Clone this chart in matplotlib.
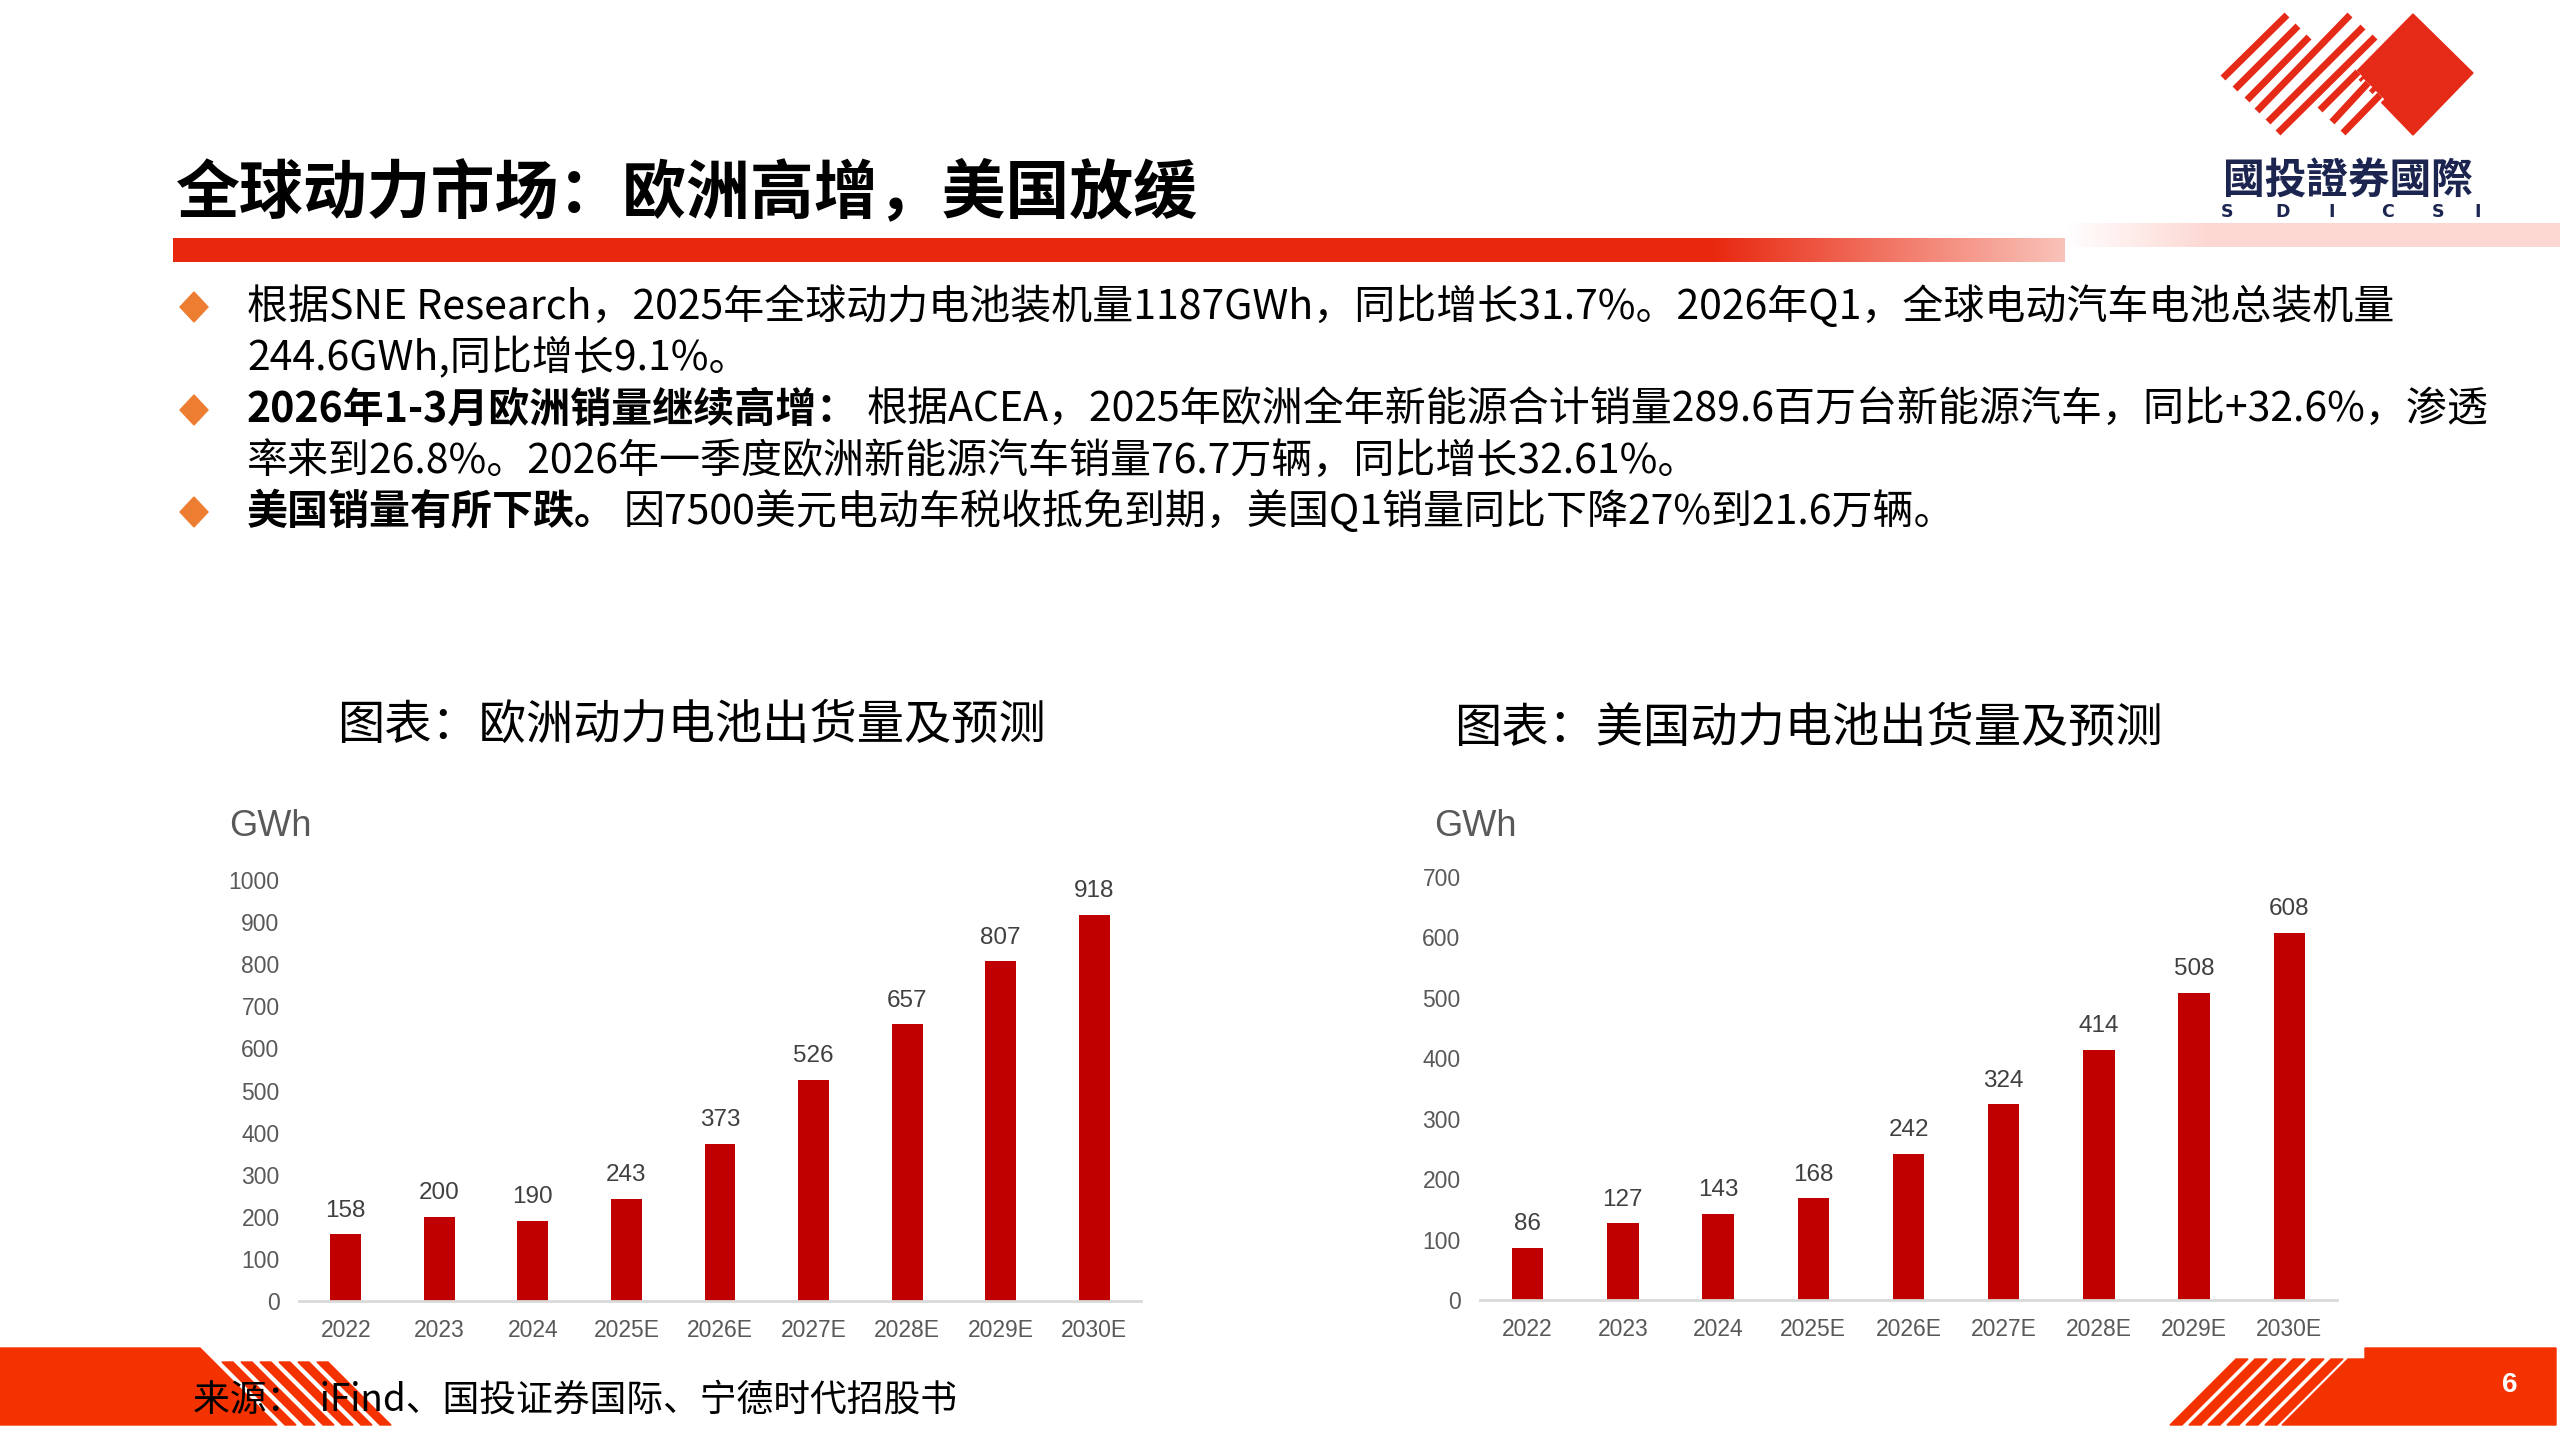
import matplotlib
matplotlib.use('Agg')
import matplotlib.pyplot as plt
import matplotlib.patheffects as pe
from matplotlib.patches import Polygon
import numpy as np

# データ
years = ['2022', '2023', '2024', '2025E', '2026E', '2027E', '2028E', '2029E', '2030E']
eu_gwh = [158, 200, 190, 243, 373, 526, 657, 807, 918]
us_gwh = [86, 127, 143, 168, 242, 324, 414, 508, 608]

title = '全球动力市场：欧洲高增，美国放缓'
eu_title = '图表：欧洲动力电池出货量及预测'
us_title = '图表：美国动力电池出货量及预测'
unit = 'GWh'
source = '来源：  iFind、国投证券国际、宁德时代招股书'
page_no = '6'

# (text, bold) segments for each printed line of each bullet
bullets = [
    [[('根据SNE Research，2025年全球动力电池装机量1187GWh，同比增长31.7%。2026年Q1，全球电动汽车电池总装机量', False)],
     [('244.6GWh,同比增长9.1%。', False)]],
    [[('2026年1-3月欧洲销量继续高增：', True),
      ('根据ACEA，2025年欧洲全年新能源合计销量289.6百万台新能源汽车，同比+32.6%，渗透', False)],
     [('率来到26.8%。2026年一季度欧洲新能源汽车销量76.7万辆，同比增长32.61%。', False)]],
    [[('美国销量有所下跌。', True),
      ('因7500美元电动车税收抵免到期，美国Q1销量同比下降27%到21.6万辆。', False)]],
]

CJK = ['Noto Sans CJK SC', 'DejaVu Sans']
RED = '#E8270E'
FOOT_RED = '#F43200'
BAR_RED = '#C00000'
ORANGE = '#ED7D31'
GRAY = '#595959'

plt.rcParams['font.family'] = CJK

W, H = 2560, 1440
fig = plt.figure(figsize=(25.6, 14.4), dpi=100)
fig.patch.set_facecolor('white')

# 背景用の座標系（ピクセル単位）
bg = fig.add_axes([0, 0, 1, 1])
bg.set_xlim(0, W)
bg.set_ylim(H, 0)
bg.axis('off')

# タイトル
bg.text(176, 193, title, fontsize=46, fontweight='bold', va='center', ha='left', color='black')

# タイトル下の赤いバー（右端でグラデーション）
grad = np.ones((1, 400, 3))
c0 = np.array(matplotlib.colors.to_rgb(RED))
c1 = np.array(matplotlib.colors.to_rgb('#FAC3BA'))
t = np.linspace(0, 1, 400)
grad[0] = c0 + (c1 - c0) * t[:, None]
bg.imshow(np.tile(c0, (1, 1, 1)), extent=[173, 1710, 262, 238], aspect='auto', zorder=1)
bg.imshow(grad, extent=[1710, 2065, 262, 238], aspect='auto', zorder=1)
pink = np.ones((1, 200, 3))
p1 = np.array(matplotlib.colors.to_rgb('#FDD8D3'))
fade = np.clip(np.linspace(0, 1, 200) * 3.5, 0, 1)
pink[0] = 1 + (p1 - 1) * fade[:, None]
bg.imshow(pink, extent=[2065, 2560, 247, 223], aspect='auto', zorder=0.9)
bg.set_xlim(0, W)
bg.set_ylim(H, 0)

# ロゴ
bg.add_patch(Polygon([(2413, 14), (2473, 73), (2413, 135), (2354, 74)], closed=True,
                     color='#E52A17', zorder=2))
stripes = [((2223, 78), (2287, 15)), ((2235, 89), (2298, 26)), ((2247, 100), (2309, 37)),
           ((2257, 111), (2350, 15)), ((2268, 122), (2363, 27)), ((2278, 133), (2375, 37))]
for (xa, ya), (xb, yb) in stripes:
    bg.plot([xa, xb], [ya, yb], color='#E52A17', lw=5, solid_capstyle='butt', zorder=3)
for (xa, ya), (xb, yb) in [((2320, 110), (2358, 72)), ((2332, 122), (2368, 83)), ((2343, 133), (2380, 95))]:
    bg.plot([xa, xb], [ya, yb], color='#E52A17', lw=5, solid_capstyle='butt', zorder=3,
            path_effects=[pe.Stroke(linewidth=8.5, foreground='white'), pe.Normal()])
bg.text(2348, 182, '國投證券國際', fontsize=30, fontweight='bold', color='#1C2450',
        ha='center', va='center', family=['Noto Sans CJK TC', 'DejaVu Sans'], zorder=3)
for lx, ch in zip([2227, 2283, 2332, 2387, 2438, 2478], 'SDICSI'):
    bg.text(lx, 212, ch, fontsize=12.5, fontweight='bold', color='#1C2450',
            ha='center', va='center', family='DejaVu Sans', zorder=3)

# 箇条書き
fig.canvas.draw()
renderer = fig.canvas.get_renderer()
line_y = [307, 358, 410, 461, 512]
li = 0
for bullet in bullets:
    yb = line_y[li]
    bg.add_patch(Polygon([(194, yb - 15), (208, yb), (194, yb + 15), (180, yb)], closed=True,
                         color=ORANGE, zorder=3))
    for segs in bullet:
        x = 247
        for seg, bold in segs:
            txt = bg.text(x, line_y[li], seg, fontsize=29.5, fontweight='bold' if bold else 'normal',
                          va='center', ha='left', color='black')
            x += txt.get_window_extent(renderer=renderer).width
            if bold:
                x += 8
        li += 1


# グラフ
def draw_chart(left, right, y0, ytop, ymax, step, values, title_text, title_xy, unit_xy):
    ax = fig.add_axes([left / W, (H - y0) / H, (right - left) / W, (y0 - ytop) / H])
    ax.patch.set_alpha(0)
    x = np.arange(len(years))
    ax.bar(x, values, width=0.33, color=BAR_RED, zorder=2)
    ax.set_xlim(-0.5, len(years) - 0.5)
    ax.set_ylim(0, ymax)
    ax.set_yticks(np.arange(0, ymax + 1, step))
    ax.set_xticks(x, years)
    for s in ['top', 'right', 'left']:
        ax.spines[s].set_visible(False)
    ax.spines['bottom'].set_color('#D9D9D9')
    ax.spines['bottom'].set_linewidth(2)
    ax.tick_params(axis='both', length=0, labelsize=16.5, labelcolor=GRAY)
    ax.tick_params(axis='x', pad=13)
    ax.tick_params(axis='y', pad=14)
    for lab in ax.get_xticklabels() + ax.get_yticklabels():
        lab.set_family('Liberation Sans')
    for xi, v in zip(x, values):
        ax.annotate(str(v), (xi, v), xytext=(0, 17), textcoords='offset points',
                    ha='center', va='center', fontsize=17.5, color='#404040',
                    family='Liberation Sans')
    bg.text(title_xy[0], title_xy[1], title_text, fontsize=34, ha='center', va='center', color='black')
    bg.text(unit_xy[0], unit_xy[1], unit, fontsize=26, ha='left', va='center', color=GRAY,
            family='Liberation Sans')
    return ax


draw_chart(299, 1141, 1301, 880, 1000, 100, eu_gwh, eu_title, (691, 726), (229, 826))
draw_chart(1480, 2337, 1300, 877, 700, 100, us_gwh, us_title, (1808, 729), (1434, 826))

# フッター左
bg.add_patch(Polygon([(0, 1348), (200, 1348), (277, 1425), (0, 1425)], closed=True,
                     color=FOOT_RED, zorder=2))
for k in range(6):
    xt = 222 + 19 * k
    bg.add_patch(Polygon([(xt, 1362), (xt + 11, 1362), (xt + 74, 1425), (xt + 63, 1425)],
                         closed=True, color=FOOT_RED, zorder=2))
# フッター右
bg.add_patch(Polygon([(2365, 1348), (2556, 1348), (2556, 1425), (2282, 1425), (2348, 1359),
                      (2365, 1359)], closed=True, color=FOOT_RED, zorder=2))
for k in range(6):
    xb = 2170 + 19 * k
    bg.add_patch(Polygon([(xb, 1425), (xb + 12, 1425), (xb + 78, 1359), (xb + 66, 1359)],
                         closed=True, color=FOOT_RED, zorder=2))

bg.text(193, 1400, source, fontsize=26.5, ha='left', va='center', color='black', zorder=4)
bg.text(2510, 1385, page_no, fontsize=20, fontweight='bold', ha='center', va='center',
        color='white', family='Liberation Sans', zorder=4)

fig.savefig('out.png', dpi=100, facecolor='white')
